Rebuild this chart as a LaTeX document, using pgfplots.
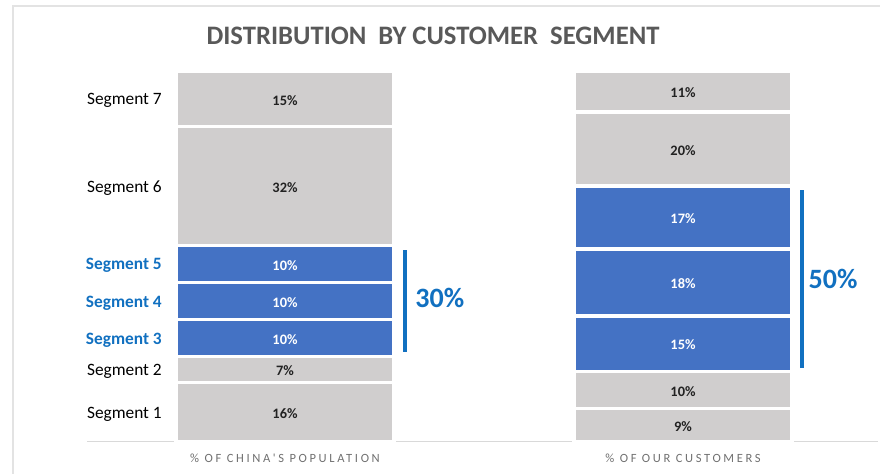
\documentclass[border=0pt]{standalone}
\usepackage{pgfplots}
\pgfplotsset{compat=1.18}
\usepackage{fontspec}
\setmainfont{Carlito}
\newfontfamily\spaced[LetterSpace=21]{Carlito}
\definecolor{bargray}{HTML}{D0CECE}
\definecolor{barblue}{HTML}{4472C4}
\definecolor{txtblue}{HTML}{1170C0}
\definecolor{titlegray}{HTML}{595959}
\definecolor{framegray}{HTML}{E3E3E3}
\definecolor{labgray}{HTML}{707070}
\definecolor{darktxt}{HTML}{222222}

\begin{document}
\begin{tikzpicture}[x=0.75pt,y=0.75pt]
\path[use as bounding box] (0,0) rectangle (880,474);
\draw[framegray, line width=1.2pt] (13,0) -- (13,468) -- (880,468);
\node[anchor=base, font=\fontsize{20}{24}\selectfont\bfseries, text=titlegray, inner sep=0pt] at (433,429) {DISTRIBUTION\ \ BY CUSTOMER\ \ SEGMENT};

\begin{axis}[at={(65.25pt,24pt)}, anchor=south west, scale only axis,
  width=593.25pt, height=278.25pt,
  xmin=-0.4975, xmax=1.49, ymin=0, ymax=100,
  ybar stacked, bar width=163.5pt,
  axis line style={draw=none}, major tick length=0pt,
  xtick={0,1},
  xticklabels={\% OF CHINA'S POPULATION, \% OF OUR CUSTOMERS},
  xticklabel style={font=\spaced\fontsize{9.4}{11}\selectfont, text=labgray, anchor=base, inner sep=0pt, yshift=-15.75pt},
  ytick={8,19.5,28,38,48,69,92.5},
  yticklabels={Segment 1, Segment 2, {\bfseries\color{txtblue}Segment 3}, {\bfseries\color{txtblue}Segment 4}, {\bfseries\color{txtblue}Segment 5}, Segment 6, Segment 7},
  yticklabel style={font=\fontsize{13}{15}\selectfont, text=black, anchor=base east, inner sep=0pt, xshift=56.25pt, yshift=-4.5pt},
]
\addplot[fill=bargray, draw=white, line width=2.6pt] coordinates {(0,16) (1,9)};
\addplot[fill=bargray, draw=white, line width=2.6pt] coordinates {(0,7) (1,10)};
\addplot[fill=barblue, draw=white, line width=2.6pt] coordinates {(0,10) (1,15)};
\addplot[fill=barblue, draw=white, line width=2.6pt] coordinates {(0,10) (1,18)};
\addplot[fill=barblue, draw=white, line width=2.6pt] coordinates {(0,10) (1,17)};
\addplot[fill=bargray, draw=white, line width=2.6pt] coordinates {(0,32) (1,20)};
\addplot[fill=bargray, draw=white, line width=2.6pt] coordinates {(0,15) (1,11)};
\draw[color=black!15, line width=1.4pt] (rel axis cs:0,0) -- (rel axis cs:1,0);
\end{axis}

\begin{axis}[at={(65.25pt,24pt)}, anchor=south west, scale only axis,
  width=593.25pt, height=278.25pt,
  xmin=-0.4975, xmax=1.49, ymin=0, ymax=100,
  hide axis]
\addplot[draw=none, nodes near coords={\pgfplotspointmeta\%}, point meta=explicit symbolic,
  every node near coord/.append style={anchor=center, yshift=-1pt, font=\fontsize{10.8}{12}\selectfont\bfseries, text=darktxt}]
  table[meta=lab] {
  x y lab
  0 8 16
  0 19.5 7
  0 69 32
  0 92.5 15
  1 4.5 9
  1 14 10
  1 79 20
  1 94.5 11
  };
\addplot[draw=none, nodes near coords={\pgfplotspointmeta\%}, point meta=explicit symbolic,
  every node near coord/.append style={anchor=center, yshift=-1pt, font=\fontsize{10.8}{12}\selectfont\bfseries, text=white}]
  table[meta=lab] {
  x y lab
  0 28 10
  0 38 10
  0 48 10
  1 26.5 15
  1 43 18
  1 60.5 17
  };
\addplot[txtblue, line width=2.6pt] coordinates {(0.3015,24.3) (0.3015,51.8)};
\addplot[txtblue, line width=2.6pt] coordinates {(1.299,19.9) (1.299,67.9)};
\addplot[draw=none, nodes near coords={\pgfplotspointmeta\%}, point meta=explicit symbolic,
  every node near coord/.append style={anchor=center, font=\fontsize{21}{24}\selectfont\bfseries, text=txtblue}]
  table[meta=lab] {
  x y lab
  0.389 38.8 30
  1.377 43.9 50
  };
\end{axis}
\end{tikzpicture}
\end{document}
